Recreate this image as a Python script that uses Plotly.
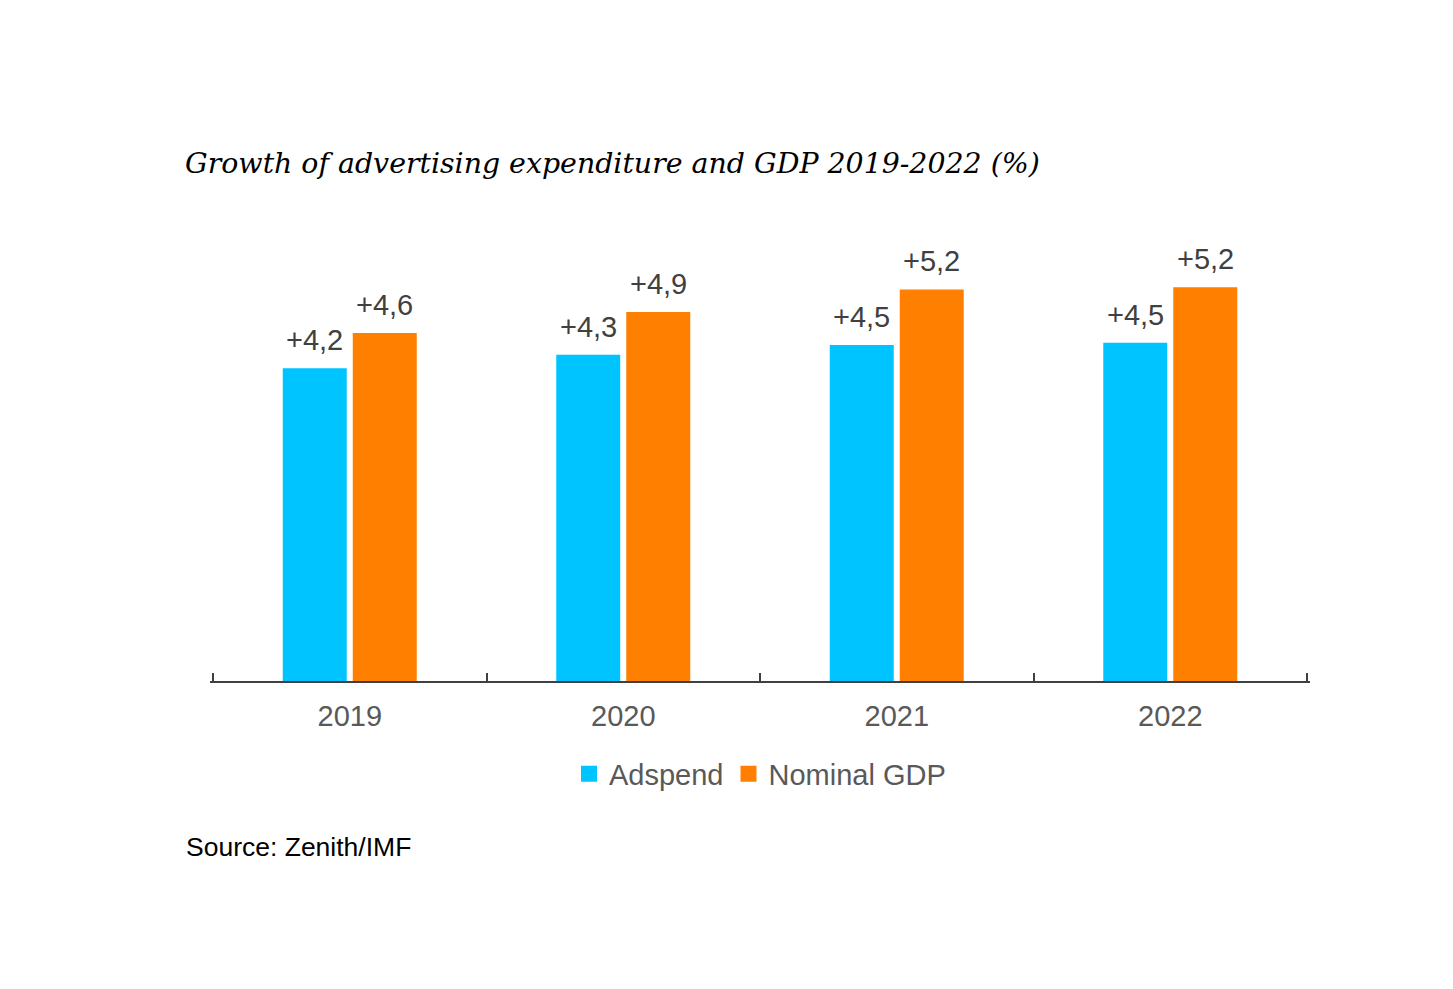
import plotly.graph_objects as go

years = ["2019", "2020", "2021", "2022"]
adspend = [4.16, 4.34, 4.47, 4.50]
gdp = [4.63, 4.91, 5.21, 5.24]
series_names = ["Adspend", "Nominal GDP"]
colors = ["#00C4FF", "#FF8000"]

# the page body has an 8px default margin; positions below are in figure pixels
OFF = 8
PAD = 3  # extra px on each side so the end boundary ticks are not clipped
W, H = 1453, 989
L, R, T, B = 213 - OFF - PAD, 146 + OFF - PAD, 230 - OFF, 308 + OFF
pw = W - L - R
ph = H - T - B
EPS = PAD * len(years) / (pw - 2 * PAD)
XR = [-0.5 - EPS, len(years) - 0.5 + EPS]
boundaries = [i - 0.5 for i in range(len(years) + 1)]


def py(screen_y):
    return (H - B - (screen_y - OFF)) / ph


def px(screen_x):
    return (screen_x - OFF - L) / pw


fig = go.Figure()
for name, vals, col in zip(series_names, [adspend, gdp], colors):
    fig.add_trace(go.Bar(x=years, y=vals, name=name, showlegend=False,
                         marker=dict(color=col, line=dict(width=0))))
for name, col in zip(series_names, colors):
    fig.add_trace(go.Scatter(x=[None], y=[None], mode="markers", name=name,
                             marker=dict(symbol="square", size=16, color=col)))
# helper trace so the boundary-tick axis is drawn
fig.add_trace(go.Scatter(x=[None], y=[None], xaxis="x2", showlegend=False, hoverinfo="skip"))

annotations = []
for vals, shift in zip([adspend, gdp], [-35, 35]):
    for i, v in enumerate(vals):
        annotations.append(dict(
            x=i, y=v, xref="x", yref="y", text="+" + f"{v:.1f}".replace(".", ","),
            showarrow=False, xshift=shift, yshift=10, yanchor="bottom", xanchor="center",
            font=dict(family="Liberation Sans, Arial", size=29, color="#404040")))

annotations.append(dict(
    x=px(184), y=py(847), xref="paper", yref="paper",
    text="Source: Zenith/IMF", showarrow=False, xanchor="left", yanchor="middle",
    font=dict(family="Liberation Sans, Arial", size=26.5, color="#000000")))

fig.update_layout(
    width=W, height=H,
    margin=dict(l=L, r=R, t=T, b=B, autoexpand=False),
    paper_bgcolor="white", plot_bgcolor="white",
    barmode="group", bargap=0.488, bargroupgap=0.086,
    title=dict(text="<i>Growth of advertising expenditure and GDP 2019-2022 (%)</i>",
               x=(185 - OFF) / W, xanchor="left", xref="container",
               y=1 - (163 - OFF) / H, yanchor="middle", yref="container",
               font=dict(family="DejaVu Serif", size=28.4, color="#000000")),
    xaxis=dict(type="category", categoryorder="array", categoryarray=years,
               range=XR, showline=True, linecolor="#404040", linewidth=2,
               ticks="",
               tickfont=dict(family="Liberation Sans, Arial", size=29, color="#595959"),
               tickangle=0, showgrid=False, zeroline=False, ticklabelstandoff=8),
    xaxis2=dict(overlaying="x", anchor="y", side="bottom", type="linear",
                range=XR, tickmode="array", tickvals=boundaries, showticklabels=False,
                ticks="inside", ticklen=8, tickwidth=2, tickcolor="#404040",
                showline=False, showgrid=False, zeroline=False),
    yaxis=dict(range=[0, 6], visible=False, showgrid=False, zeroline=False),
    legend=dict(orientation="h", x=px(760), xanchor="center",
                y=py(774), yanchor="middle",
                font=dict(family="Liberation Sans, Arial", size=29, color="#595959"),
                tracegroupgap=0),
    annotations=annotations,
    showlegend=True,
)

fig.write_html("out.html")
